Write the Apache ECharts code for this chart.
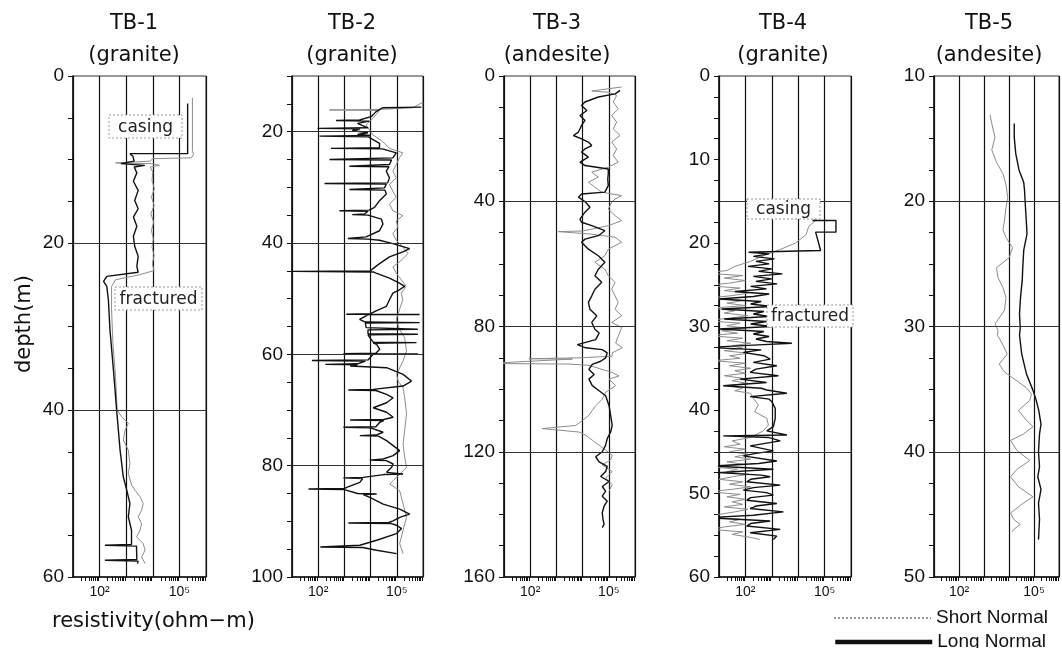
<!DOCTYPE html>
<html><head><meta charset="utf-8">
<script src="https://cdn.jsdelivr.net/npm/echarts@6/dist/echarts.min.js"></script>
<style>html,body{margin:0;padding:0;background:#fff}#c{width:1062px;height:648px}</style>
</head><body><div id="c"></div><script>
// ---------------- DATA ----------------
const panelNames = ['TB-1', 'TB-2', 'TB-3', 'TB-4', 'TB-5'];
const rockTypes = ['(granite)', '(granite)', '(andesite)', '(granite)', '(andesite)'];
const depthMin = [0, 10, 0, 0, 10];
const depthMax = [60, 100, 160, 60, 50];
const depthTickStep = [5, 5, 10, 2.5, 2.5];
const depthLabelStep = [20, 20, 40, 10, 10];
const depthGridLines = [[20, 40], [20, 40, 60, 80], [40, 80, 120], [15, 45], [20, 30, 40]];
const resistivityRange = [10, 1e6];
const resistivityTickLabels = { 2: '10\u00b2', 5: '10\u2075' };
const seriesNames = ['Short Normal', 'Long Normal'];
const annotationTexts = ['casing', 'fractured', 'casing', 'fractured'];

// each point: [depth (m), log10 of resistivity (ohm-m)]
const tb1Long = [[3.3,5.31],[9.3,5.31],[9.3,3.14],[9.6,3.25],[10.2,3.3],[10.5,2.8],[10.7,3.7],[10.9,3.3],[11.6,3.40],[12.6,3.27],[13.7,3.45],[14.9,3.32],[15.9,3.45],[16.9,3.27],[18.0,3.40],[19.2,3.27],[20.4,3.32],[21.6,3.45],[22.8,3.40],[23.5,3.45],[24.0,2.27],[24.6,2.15],[25.2,2.27],[26.8,2.33],[30.4,2.39],[35.2,2.52],[40,2.64],[44.8,2.77],[48,2.89],[49.6,3.02],[51.2,3.14],[52.8,3.08],[54.4,3.2],[56.1,3.2],[56.2,2.2],[56.3,3.39],[56.8,3.39],[57.9,3.4],[58.0,2.2],[58.1,3.45],[58.4,3.42]];
const tb1Short = [[2.6,5.49],[8.9,5.49],[9.4,5.53],[9.8,5.45],[9.9,4.0],[10.2,3.9],[10.4,2.6],[10.5,3.95],[10.7,4.25],[10.9,3.9],[11.5,4.0],[12.5,3.97],[13.5,4.06],[14.5,3.95],[15.5,4.05],[16.5,3.93],[17.5,4.03],[18.5,3.95],[19.5,4.02],[20.5,3.97],[21.5,4.05],[22.5,3.98],[23.3,4.05],[23.8,3.5],[24.4,2.6],[25.2,2.45],[28,2.45],[32,2.5],[36,2.6],[40,2.66],[40.8,2.83],[41.6,3.08],[42.4,2.96],[43.6,2.89],[44.8,3.08],[46.4,3.14],[47.6,3.08],[49.0,3.2],[49.6,3.33],[50.4,3.52],[51.2,3.64],[52.0,3.58],[52.8,3.45],[53.6,3.58],[54.4,3.52],[55.2,3.39],[56.0,3.64],[56.8,3.71],[57.6,3.58],[58.4,3.71]];

const tb2Long = [[15.6,5.94],[15.7,4.47],[16.4,4.21],[17.3,4.02],[17.9,3.58],[18.0,2.68],[18.1,3.96],[18.5,3.5],[18.8,3.45],[19.3,3.9],[19.4,1.98],[19.5,3.6],[19.8,3.3],[20.2,3.9],[20.5,3.5],[20.7,4.0],[20.8,2.05],[20.9,3.9],[21.2,3.96],[22.1,4.34],[22.9,4.34],[23.0,2.49],[23.1,4.45],[23.8,4.98],[24.7,4.85],[25.0,2.43],[25.1,4.8],[25.9,4.72],[26.2,3.19],[26.3,4.7],[27.1,4.6],[28.3,4.72],[29.2,4.65],[29.3,2.24],[29.4,4.6],[30.1,4.53],[30.4,3.19],[30.5,4.55],[31.2,4.6],[32.4,4.34],[33.6,4.15],[34.1,3.95],[34.2,2.81],[34.3,3.9],[34.8,3.77],[34.9,3.3],[35.0,3.9],[35.7,4.41],[36.6,4.47],[37.8,4.34],[38.9,3.83],[39.2,3.13],[39.3,3.9],[39.5,4.34],[40.1,4.85],[41.0,5.49],[41.6,5.23],[42.5,4.72],[43.7,4.34],[44.6,4.09],[45.0,4.0],[45.1,1.03],[45.2,4.1],[45.4,4.21],[46.3,4.72],[47.2,5.1],[47.8,5.3],[48.4,5.1],[49.0,4.85],[50.2,4.72],[51.4,4.6],[52.2,4.21],[52.7,4.0],[52.8,3.07],[52.85,5.87],[52.9,3.9],[53.7,3.58],[54.2,3.8],[54.3,5.87],[54.4,3.8],[55.2,3.83],[55.5,5.8],[55.6,3.9],[56.3,3.9],[56.4,5.81],[56.5,3.9],[57.0,3.97],[57.8,4.1],[57.9,5.75],[58.0,4.1],[58.2,4.23],[59.1,4.35],[59.8,4.2],[59.9,2.96],[59.95,5.81],[60.0,4.1],[60.3,4.1],[61.0,3.9],[61.1,1.76],[61.2,3.8],[61.7,3.5],[61.8,2.27],[61.9,3.5],[62.1,3.22],[62.4,4.61],[63.6,5.24],[64.8,5.56],[65.7,5.24],[66.3,4.1],[66.4,3.15],[66.5,4.2],[67.2,4.61],[67.8,4.86],[68.7,4.61],[69.6,4.1],[70.4,4.61],[71.3,4.86],[71.7,4.5],[71.8,3.22],[71.9,4.5],[72.2,4.35],[73.0,4.2],[73.1,2.96],[73.2,4.0],[73.4,3.97],[74.0,4.48],[74.5,4.2],[74.6,3.59],[74.7,4.3],[75.5,4.61],[76.4,4.86],[77.3,5.11],[78.2,4.86],[78.8,4.48],[79.0,3.97],[79.1,4.6],[79.7,4.86],[80.3,4.8],[81.2,4.61],[81.4,4.6],[81.5,5.24],[81.6,4.5],[82.1,3.72],[82.2,2.96],[82.3,3.7],[83.0,3.59],[83.9,3.09],[84.1,3.0],[84.2,1.63],[84.3,3.0],[84.5,3.03],[85.0,3.5],[85.1,4.23],[85.2,3.72],[85.7,3.97],[86.9,4.48],[87.8,5.11],[88.7,5.49],[89.3,5.11],[89.9,4.86],[90.2,4.7],[90.3,3.15],[90.4,4.8],[90.7,4.99],[91.3,5.18],[92.2,4.99],[93.4,4.23],[94.3,3.59],[94.5,3.6],[94.6,2.08],[94.7,3.7],[95.2,4.23],[95.8,4.99]];
const tb2Short = [[14.7,6.0],[15.7,5.62],[16.0,4.34],[16.1,2.43],[16.2,4.34],[17.6,4.09],[18.8,3.83],[19.7,3.96],[20.6,4.09],[21.8,4.47],[23.0,4.72],[23.8,5.23],[24.7,5.1],[25.9,4.98],[27.1,4.85],[28.3,4.98],[29.5,4.72],[30.7,4.85],[31.8,4.98],[33.0,4.72],[34.2,4.85],[35.1,5.23],[36.0,4.98],[37.2,5.04],[38.3,4.85],[39.5,4.98],[40.7,5.23],[41.9,5.43],[43.1,5.17],[44.3,4.85],[45.4,4.98],[46.6,5.17],[47.8,5.36],[49.0,5.17],[50.2,5.23],[52.0,5.1],[53.7,4.98],[55.5,5.1],[57.0,5.3],[59.4,5.37],[61.2,5.24],[62.4,5.11],[63.6,4.99],[64.8,5.05],[66.0,5.24],[67.8,5.3],[70.7,5.37],[73.7,5.3],[76.1,5.24],[78.5,5.3],[80.3,5.37],[82.1,4.99],[83.3,4.73],[84.5,5.11],[86.9,5.24],[89.3,5.37],[91.6,5.24],[94.0,5.11],[95.8,5.24]];

const tb3Long = [[4.6,5.43],[5.7,5.24],[6.7,4.6],[8.3,4.09],[9.4,3.96],[11.0,4.16],[12.6,3.9],[14.2,4.09],[15.8,3.96],[17.9,3.84],[19.0,3.65],[20.1,3.96],[21.1,4.22],[22.2,4.35],[23.3,4.09],[24.3,3.96],[25.9,4.22],[27.5,3.9],[28.6,4.09],[29.7,4.98],[31.3,4.98],[32.9,4.96],[35.0,4.98],[37.1,4.85],[37.7,3.96],[38.7,3.84],[40.1,4.09],[41.9,4.28],[43.5,4.09],[45.7,3.9],[46.7,3.96],[47.8,4.35],[49.4,4.85],[51.0,4.6],[52.1,4.09],[53.1,3.96],[55.3,4.22],[57.4,4.6],[59.5,4.85],[61.7,4.6],[63.8,4.47],[65.9,4.73],[68.1,4.47],[70.2,4.35],[72.3,4.22],[74.5,4.28],[76.6,4.54],[78.7,4.35],[80.9,4.47],[82.1,4.63],[84.2,4.5],[85.8,3.8],[86.8,4.12],[87.4,4.75],[88.4,4.94],[90.0,4.88],[91.1,4.69],[92.1,4.37],[93.7,4.24],[95.3,4.44],[96.8,4.24],[98.9,4.37],[100.5,4.63],[102.1,4.88],[105.3,5.01],[108.4,5.07],[111.6,5.13],[113.7,5.07],[115.8,4.94],[117.9,4.88],[120.0,4.75],[121.6,4.5],[123.2,4.63],[124.7,4.94],[126.3,4.88],[127.9,4.69],[129.5,5.01],[131.1,4.75],[132.6,4.88],[134.2,4.75],[135.8,4.94],[137.4,4.82],[139.5,4.75],[141.6,4.78],[143.2,4.82],[144.2,4.75]];
const tb3Short = [[3.5,5.49],[4.5,4.6],[4.8,4.35],[5.2,5.0],[6.2,5.3],[8.3,5.17],[10.5,5.36],[12.6,5.11],[14.7,5.3],[16.9,5.17],[19.0,5.43],[21.1,5.11],[23.3,5.3],[25.4,5.17],[27.5,5.36],[29.1,4.98],[30.7,4.35],[32.3,4.6],[33.9,4.22],[35.5,4.47],[37.1,4.73],[38.2,5.49],[39.3,5.24],[40.3,5.11],[42.5,4.98],[44.6,5.24],[46.2,5.49],[47.8,4.98],[49.5,4.0],[49.7,3.07],[50.5,4.35],[51.5,5.24],[53.1,5.49],[55.3,4.98],[57.4,4.85],[59.5,4.47],[61.7,4.85],[63.8,4.98],[65.9,5.24],[68.1,5.11],[70.2,5.24],[72.3,5.36],[74.5,5.24],[76.6,5.49],[78.7,5.11],[80.3,5.49],[85.3,5.26],[86.8,5.52],[88.4,5.13],[89.5,5.13],[90.0,3.86],[90.3,1.95],[90.4,3.61],[91.0,3.61],[91.8,0.36],[92.0,3.5],[92.4,4.24],[94.7,5.13],[95.8,5.39],[96.8,5.01],[98.9,5.26],[101.0,4.88],[103.2,4.75],[105.3,4.5],[106.8,4.37],[108.4,4.24],[110.0,3.99],[111.6,3.74],[112.6,2.46],[112.9,2.84],[113.7,3.86],[114.7,4.12],[116.3,4.37],[117.9,4.63],[119.5,4.88],[121.1,5.13],[122.6,5.07],[124.2,4.75],[126.3,5.13],[128.4,4.88],[130.5,5.13],[132.6,5.01]];

const tb4Long = [[17.3,4.54],[17.3,5.43],[18.7,5.43],[18.7,4.66],[20.9,4.85],[20.95,4.0],[21.1,2.12],[21.3,2.9],[21.6,2.3],[21.9,3.1],[22.2,2.4],[22.5,2.9],[22.8,2.1],[23.1,3.0],[23.4,2.5],[23.7,3.4],[24.0,2.3],[24.3,3.0],[24.6,2.4],[24.9,3.2],[25.2,2.2],[25.5,2.8],[25.8,1.6],[26.1,2.9],[26.4,2.3],[26.7,1.0],[27.0,2.6],[27.3,2.2],[27.6,3.0],[27.9,1.1],[28.2,2.7],[28.5,2.3],[28.8,2.9],[29.1,1.2],[29.4,2.8],[29.7,2.2],[30.0,3.0],[30.3,1.0],[30.6,2.7],[30.9,2.3],[31.2,2.9],[31.5,2.4],[31.8,2.8],[32.0,3.76],[32.2,2.5],[32.5,0.6],[32.8,2.6],[33.1,1.92],[33.5,2.7],[33.9,2.94],[34.3,2.3],[34.7,3.19],[35.1,2.4],[35.5,2.18],[35.9,3.25],[36.3,1.8],[36.7,2.8],[37.1,1.16],[37.4,2.6],[37.6,2.81],[38.0,3.57],[38.4,2.18],[38.7,2.9],[39.0,3.0],[39.8,3.13],[41.0,3.13],[42.0,3.06],[42.5,2.81],[43.0,3.57],[43.1,1.16],[43.3,2.9],[43.7,3.32],[44.3,2.18],[44.9,3.06],[45.2,2.4],[45.5,1.92],[46.1,3.19],[46.4,2.5],[46.7,0.78],[47.1,3.06],[47.5,0.97],[47.8,2.6],[48.0,2.94],[48.3,2.2],[48.6,2.05],[49.0,3.32],[49.3,2.3],[49.6,1.92],[49.9,2.8],[50.2,3.06],[50.5,2.2],[50.8,2.05],[51.2,3.19],[51.5,2.4],[51.8,2.18],[52.2,3.44],[52.6,2.3],[52.9,0.53],[53.3,2.94],[53.6,2.2],[53.9,2.05],[54.3,3.32],[54.7,2.18],[55.1,3.19],[55.5,3.06]];
const tb4Short = [[16.8,4.3],[17.2,4.7],[18.0,4.4],[19.0,4.3],[20.0,3.9],[20.8,3.3],[21.5,2.7],[22.2,2.2],[22.8,1.6],[23.3,1.3],[23.6,0.4],[23.9,1.9],[24.2,1.2],[24.5,2.0],[24.8,1.4],[25.1,0.5],[25.4,1.8],[25.7,1.2],[26.0,2.1],[26.3,1.5],[26.6,0.6],[26.9,1.9],[27.2,1.3],[27.5,2.0],[27.8,0.7],[28.1,1.6],[28.4,1.2],[28.7,2.1],[29.0,1.4],[29.3,0.5],[29.6,1.8],[29.9,1.3],[30.2,2.0],[30.5,1.1],[30.8,1.7],[31.1,0.6],[31.4,1.9],[31.7,1.3],[32.0,2.2],[32.3,1.5],[32.6,1.9],[32.9,1.2],[33.2,2.1],[33.5,1.4],[33.8,1.8],[34.1,0.8],[34.4,2.0],[34.7,1.4],[35.0,2.2],[35.3,1.6],[35.6,2.0],[35.9,1.2],[36.2,1.9],[36.5,1.5],[36.8,2.1],[37.1,1.3],[37.4,1.9],[37.7,1.6],[38.0,2.2],[38.6,2.3],[39.4,2.49],[40.2,2.35],[41.0,2.81],[41.8,2.87],[42.5,2.68],[43.3,2.18],[43.7,1.5],[44.1,1.8],[44.4,1.2],[44.7,2.0],[45.0,1.4],[45.3,2.1],[45.6,1.6],[45.9,2.2],[46.2,1.3],[46.5,1.9],[46.8,0.7],[47.1,1.7],[47.4,1.3],[47.7,2.1],[48.0,1.5],[48.3,1.0],[48.6,1.9],[48.9,1.4],[49.2,2.2],[49.5,1.5],[49.8,0.6],[50.1,1.8],[50.4,1.3],[50.7,2.0],[51.0,1.5],[51.3,1.9],[51.6,1.2],[51.9,2.1],[52.2,1.6],[52.5,1.0],[52.8,0.5],[53.1,1.8],[53.4,1.4],[53.7,2.0],[54.0,1.2],[54.3,0.7],[54.6,1.9],[54.9,1.5],[55.2,2.1],[55.5,2.55]];

const tb5Long = [[13.8,4.21],[14.9,4.21],[16.2,4.27],[17.5,4.4],[18.5,4.59],[19.1,4.62],[20.2,4.65],[21.5,4.69],[22.6,4.72],[23.9,4.59],[25.3,4.55],[26.3,4.53],[27.7,4.46],[29.0,4.42],[30.1,4.45],[30.7,4.42],[32.2,4.51],[33.8,4.7],[35.1,4.96],[35.9,5.09],[36.7,5.19],[37.8,5.28],[38.6,5.22],[40.0,5.18],[41.2,5.22],[42.0,5.15],[43.0,5.28],[44.1,5.18],[45.4,5.22],[47.0,5.18]];
const tb5Short = [[13.1,3.24],[13.8,3.31],[14.9,3.44],[15.9,3.31],[16.9,3.5],[17.8,3.76],[18.7,3.88],[19.7,3.95],[20.5,3.88],[21.5,3.82],[22.3,3.76],[22.9,3.88],[23.7,4.14],[24.5,4.01],[25.3,3.5],[26.1,3.56],[26.9,3.76],[27.7,3.88],[28.7,3.82],[29.8,3.44],[30.3,3.56],[30.7,3.54],[31.4,3.74],[32.2,3.93],[33.0,3.61],[33.6,3.8],[34.9,4.7],[35.4,4.9],[35.9,4.83],[36.7,4.38],[37.5,4.7],[38.0,4.96],[38.6,4.57],[39.1,4.06],[39.9,4.32],[40.7,4.83],[41.4,4.32],[42.0,4.06],[42.8,4.38],[43.6,4.96],[44.1,4.57],[44.9,4.06],[45.4,4.19],[45.8,4.45],[46.2,4.19],[46.4,4.12]];

const longLogs = [tb1Long, tb2Long, tb3Long, tb4Long, tb5Long];
const shortLogs = [tb1Short, tb2Short, tb3Short, tb4Short, tb5Short];

// ---------------- LAYOUT / STYLE ----------------
const plotTop = 76, plotHeight = 501;
const panelLeft = [73, 292, 504, 719, 934];
const panelWidth = [133, 131, 131, 132, 131];
const titleCenter = [134, 352, 557, 783, 989];
const annotationBoxes = [
  { x: 109, y: 115, w: 73, h: 23 },
  { x: 115, y: 287, w: 87, h: 23 },
  { x: 747, y: 199, w: 73, h: 20 },
  { x: 767, y: 305, w: 86, h: 22 }
];
const legendTops = [608, 632];
const INK = '#111';
const GRAY = '#8c8c8c';
const TITLE_FONT = 'DejaVu Sans';
const NUM_FONT = 'Liberation Sans, DejaVu Sans';

const toPoints = arr => arr.map(([d, e]) => [Math.pow(10, e), d]);

const grids = [], xAxes = [], yAxes = [], series = [], graphics = [];
for (let i = 0; i < 5; i++) {
  grids.push({ left: panelLeft[i], top: plotTop, width: panelWidth[i], height: plotHeight,
    show: true, borderColor: '#333', borderWidth: 1 });
  xAxes.push({
    type: 'log', logBase: 10, gridIndex: i, min: resistivityRange[0], max: resistivityRange[1],
    position: 'bottom',
    axisLine: { show: true, onZero: false, lineStyle: { color: INK, width: 1.5 } },
    axisTick: { show: false },
    minorTick: { show: true, splitNumber: 9, length: 4, lineStyle: { color: INK, width: 1 } },
    axisLabel: {
      color: INK, fontFamily: NUM_FONT, fontSize: 14, margin: 8,
      formatter: v => resistivityTickLabels[Math.round(Math.log10(v))] || ''
    },
    splitLine: { show: true, lineStyle: { color: INK, width: 1.2 } },
    minorSplitLine: { show: false }
  });
  const step = depthLabelStep[i];
  yAxes.push({
    type: 'value', gridIndex: i, inverse: true, min: depthMin[i], max: depthMax[i], interval: depthTickStep[i],
    axisLine: { show: true, onZero: false, lineStyle: { color: INK, width: 1.5 } },
    axisTick: { show: true, length: 5, lineStyle: { color: INK } },
    axisLabel: { color: INK, fontFamily: NUM_FONT, fontSize: 19, margin: 9,
      formatter: v => (Math.abs(v % step) < 1e-9 ? String(v) : '') },
    splitLine: { show: false }
  });
  series.push({
    type: 'line', name: seriesNames[0], xAxisIndex: i, yAxisIndex: i,
    data: toPoints(shortLogs[i]), symbol: 'circle', showSymbol: false, clip: false,
    lineStyle: { color: GRAY, width: 1 }, itemStyle: { color: GRAY }, z: 3, silent: true
  });
  series.push({
    type: 'line', name: seriesNames[1], xAxisIndex: i, yAxisIndex: i,
    data: toPoints(longLogs[i]), symbol: 'circle', showSymbol: false, clip: false,
    lineStyle: { color: INK, width: 1.4 }, itemStyle: { color: INK }, z: 4, silent: true,
    markLine: { silent: true, symbol: 'none', animation: false, label: { show: false },
      lineStyle: { color: '#333', width: 1, type: 'solid' },
      data: depthGridLines[i].map(v => ({ yAxis: v })) }
  });
  graphics.push({ type: 'text', x: titleCenter[i], y: 24, z: 100,
    style: { text: panelNames[i], font: '21px ' + TITLE_FONT, fill: INK, align: 'center', verticalAlign: 'middle' } });
  graphics.push({ type: 'text', x: titleCenter[i], y: 56, z: 100,
    style: { text: rockTypes[i], font: '21px ' + TITLE_FONT, fill: INK, align: 'center', verticalAlign: 'middle' } });
}

annotationBoxes.forEach((b, k) => {
  graphics.push({ type: 'group', x: b.x, y: b.y, z: 100, children: [
    { type: 'rect', z: 100, shape: { x: 0, y: 0, width: b.w, height: b.h },
      style: { fill: '#fff', stroke: '#999', lineWidth: 1, lineDash: [2, 2] } },
    { type: 'text', z: 101, x: b.w / 2, y: b.h / 2 + 1,
      style: { text: annotationTexts[k], font: '17px ' + TITLE_FONT, fill: '#222', align: 'center', verticalAlign: 'middle' } }
  ]});
});

graphics.push({ type: 'text', x: 25, y: 324, rotation: Math.PI / 2, z: 100,
  style: { text: 'depth(m)', font: '21px ' + TITLE_FONT, fill: INK, align: 'center', verticalAlign: 'middle' } });
graphics.push({ type: 'text', x: 52, y: 622, z: 100,
  style: { text: 'resistivity(ohm\u2212m)', font: '21px ' + TITLE_FONT, fill: INK, align: 'left', verticalAlign: 'middle' } });

const legendStyles = [
  { itemStyle: { opacity: 0 }, lineStyle: { color: '#999', width: 2, type: [2, 2] } },
  { itemStyle: { opacity: 0 }, lineStyle: { color: INK, width: 4.5 } }
];
const legends = seriesNames.map((name, k) => ({
  left: 833, top: legendTops[k], orient: 'horizontal', itemWidth: 97, itemHeight: 14, itemGap: 4,
  selectedMode: false, padding: 0,
  textStyle: { fontFamily: NUM_FONT, fontSize: 19, color: INK, lineHeight: 20 },
  data: [Object.assign({ name: name }, legendStyles[k])]
}));

const chart = echarts.init(document.getElementById('c'), null, { renderer: 'canvas' });
chart.setOption({
  backgroundColor: '#fff',
  animation: false,
  grid: grids, xAxis: xAxes, yAxis: yAxes, series: series,
  legend: legends,
  graphic: graphics
});
</script></body></html>
